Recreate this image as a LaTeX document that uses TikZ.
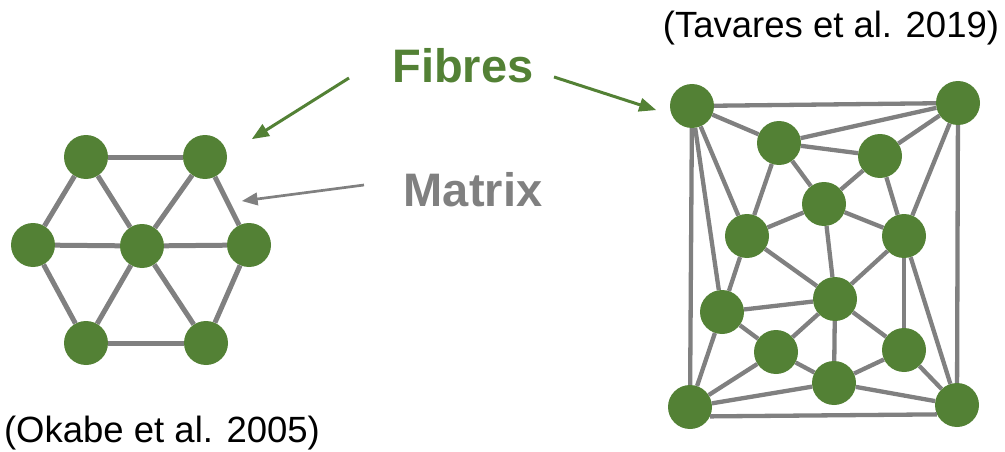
\documentclass[tikz,border=0pt]{standalone}
\usepackage{fontspec}
\setmainfont{Liberation Sans}
\usetikzlibrary{arrows,positioning}
\definecolor{fibregreen}{HTML}{538135}
\definecolor{bondgray}{HTML}{808080}

\begin{document}
\begin{tikzpicture}[x=1pt,y=-1pt,
  fibre/.style={circle,fill=fibregreen,minimum size=44pt,inner sep=0pt},
  bond/.style={bondgray,line width=4.3pt},
  pointer/.style={->,>=triangle 45,line width=3pt},
  heading/.style={font=\fontsize{47}{50}\selectfont\bfseries,inner sep=0pt},
  source/.style={font=\fontsize{36.5}{40}\selectfont,inner sep=0pt}]
\useasboundingbox (0,0) rectangle (1005,452);

% hexagonal packing
\node[fibre] (h1) at (86,157) {};
\node[fibre] (h2) at (205,157) {};
\node[fibre] (h3) at (33,245) {};
\node[fibre] (h4) at (142,246) {};
\node[fibre] (h5) at (249,245) {};
\node[fibre] (h6) at (86,343) {};
\node[fibre] (h7) at (206,343) {};
\foreach \u/\v in {h1/h2,h1/h3,h1/h4,h2/h4,h2/h5,h3/h4,h4/h5,h3/h6,h4/h6,h4/h7,h5/h7,h6/h7}
  \draw[bond,line width=5pt] (\u) -- (\v);

% random packing
\node[fibre] (a) at (692,106) {};
\node[fibre] (b) at (958,103) {};
\node[fibre] (c) at (779,143) {};
\node[fibre] (d) at (880,156) {};
\node[fibre] (e) at (824,204) {};
\node[fibre] (f) at (747,236) {};
\node[fibre] (g) at (904,236) {};
\node[fibre] (h) at (722,312) {};
\node[fibre] (i) at (835,299) {};
\node[fibre] (j) at (776,352) {};
\node[fibre] (k) at (904,350) {};
\node[fibre] (l) at (834,383) {};
\node[fibre] (m) at (690,407) {};
\node[fibre] (n) at (957,405) {};
\foreach \u/\v in {a/b,a/c,a/f,a/h,a/m,c/b,c/d,c/f,c/e,d/b,d/e,d/g,b/g,b/n,
                   e/f,e/g,e/i,f/h,f/i,g/i,g/k,g/n,h/i,h/j,h/m,i/j,i/l,i/k,
                   j/m,j/l,k/l,k/n,l/m,l/n}
  \draw[bond] (\u) -- (\v);
\draw[bond] (m.-25) -- (n.-155);

% labels
\node[heading,text=fibregreen] (fibres) at (463,66) {Fibres};
\node[heading,text=bondgray] (matrixlbl) at (473,190) {Matrix};
\node[source] (tavares) at (831,28) {(Tavares et al. 2019)};
\node[source] (okabe) at (162,433) {(Okabe et al. 2005)};

\coordinate (fl0) at (349,78);
\coordinate (fl1) at (252,139);
\coordinate (fr0) at (554,77);
\coordinate (fr1) at (656,110);
\coordinate (ml0) at (364,185);
\coordinate (ml1) at (242,201);
\draw[pointer,fibregreen] (fl0) -- (fl1);
\draw[pointer,fibregreen] (fr0) -- (fr1);
\draw[pointer,bondgray,line width=2.7pt] (ml0) -- (ml1);
\end{tikzpicture}
\end{document}
